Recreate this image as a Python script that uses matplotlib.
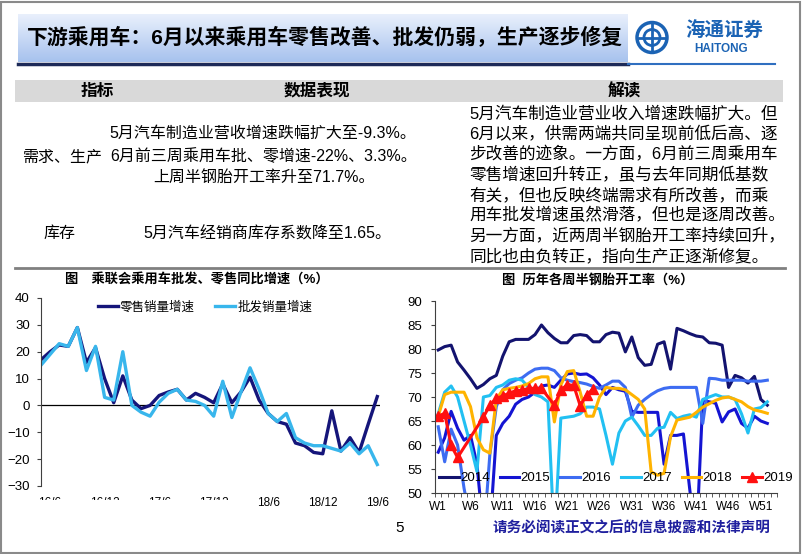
import numpy as np
import matplotlib.pyplot as plt
from matplotlib.patches import Rectangle, Circle
from matplotlib.lines import Line2D
from matplotlib.colors import LinearSegmentedColormap

plt.rcParams['font.family'] = ['Liberation Sans', 'Noto Sans CJK SC']

W, H = 802, 554

# ---- left chart: monthly yoy growth, 16/5 .. 19/6 ----
month_idx = np.arange(-1, 37)
retail = [17, 20, 22.5, 22, 29, 16, 21.5, 10, 1, 11, 2, -1.2, 0, 3.7, 5, 6, 2, 4.5, 3, 1,
          8, 1, 5, 10.5, 2, -3, -6, -7, -14, -15, -17.5, -18, -2, -17, -12, -17.5, -7, 3.3]
wholesale = [15, 19, 23, 22, 29, 13, 22, 3, 2, 20, 0, -2.5, -4, 1.2, 4.5, 6, 2, 1.5, 0, -4,
             9, -4.5, 5, 14, 6, -3, -6, -3, -12, -14, -15, -15, -16, -17, -14, -18, -15, -22]
left_tick_pos = [0, 6, 12, 18, 24, 30, 36]
left_tick_labels = ['16/6', '16/12', '17/6', '17/12', '18/6', '18/12', '19/6']
left_names = ['零售销量增速', '批发销量增速']

# ---- right chart: weekly semi-steel tyre operating rate ----
weeks = np.arange(1, 53)
y2014 = [79.8, 80.5, 80.8, 77.3, 75.6, 73.8, 71.8, 72.6, 73.8, 74.5, 78.5, 81.5, 82.0, 82.0, 82.0,
         83.0, 85.0, 83.4, 82.2, 81.3, 81.3, 82.8, 83.0, 82.8, 81.5, 81.5, 83.0, 83.5, 83.3, 79.4,
         82.5, 78.2, 76.6, 76.8, 81.0, 81.5, 75.8, 84.3, 83.8, 83.2, 82.7, 82.5, 81.3, 81.2, 80.8,
         72.0, 74.5, 74.0, 72.9, 74.3, 69.5, 68.3]
y2015 = [58.5, 61.5, 67.0, 63.5, 61.0, 62.0, 56.0, 42.0, 42.0, 62.0, 64.5, 66.0, 68.5, 69.5, 70.0,
         71.0, 72.3, 72.5, 72.0, 73.5, 74.8, 75.0, 74.7, 74.8, 74.0, 72.5, 70.5, 72.0, 71.5, 71.2,
         67.0, 66.8, 66.8, 66.8, 66.8, 56.0, 62.0, 62.0, 62.3, 50.5, 40.0, 69.3, 69.0, 68.7, 64.8,
         66.9, 67.5, 64.5, 63.5, 66.0, 65.0, 64.5]
y2016 = [63.8, 56.5, 63.3, 60.0, 51.0, 44.0, 42.0, 40.0, 58.0, 68.0, 71.5, 72.8, 73.5, 74.0, 75.0,
         75.8, 76.0, 76.0, 75.5, 74.0, 73.5, 73.2, 73.0, 72.7, 72.2, 71.8, 72.5, 73.3, 73.3, 72.0,
         65.8, 68.3, 69.5, 70.5, 71.3, 71.8, 72.0, 72.0, 72.0, 72.0, 72.0, 64.5, 73.9, 73.8, 73.5,
         73.5, 73.5, 73.5, 73.3, 73.3, 73.3, 73.5]
y2017 = [66.5, 71.0, 72.3, 70.0, 65.0, 60.0, 54.5, 70.0, 70.3, 72.0, 72.5, 73.5, 73.8, 73.5, 72.0,
         70.5, 70.0, 69.0, 40.0, 65.6, 65.8, 66.0, 66.5, 67.9, 67.9, 67.5, 62.0, 56.0, 62.5, 65.0,
         65.8, 64.0, 62.0, 62.0, 63.5, 63.7, 66.8, 65.5, 66.0, 66.3, 65.8, 69.5, 70.0, 70.5, 70.0,
         70.0, 69.5, 66.5, 62.5, 67.5, 67.8, 69.0]
y2018 = [66.0, 70.5, 71.0, 71.0, 71.0, 68.0, 61.5, 59.0, 58.3, 69.5, 71.5, 71.8, 72.0, 72.3, 72.8,
         73.8, 74.2, 74.2, 64.8, 72.5, 75.3, 75.5, 71.0, 66.0, 66.0, 70.0, 72.0, 71.8, 71.8, 71.5,
         70.5, 69.5, 67.5, 54.4, 53.7, 54.1, 61.7, 65.2, 65.5, 65.8, 66.8, 67.9, 68.6, 69.3, 69.8,
         70.0, 69.5, 69.0, 68.0, 67.3, 67.0, 66.6]
weeks2019 = [1, 2, 3, 4, 8, 9, 10, 11, 12, 13, 14, 15, 16, 17, 19, 20, 21, 22, 23, 24, 25]
y2019 = [66.0, 66.6, 59.9, 57.4, 65.8, 68.3, 69.7, 70.2, 70.8, 71.3, 71.4, 71.8, 71.8, 71.8,
         68.3, 71.4, 72.6, 72.4, 68.2, 70.4, 71.7]
week_tick_pos = [1, 6, 11, 16, 21, 26, 31, 36, 41, 46, 51]
week_tick_labels = ['W' + str(w) for w in week_tick_pos]

fig = plt.figure(figsize=(W / 100, H / 100), dpi=100)


def fx(px):
    return px / W


def fy(py):
    return 1 - py / H


def txt(x, y, s, **kw):
    kw.setdefault('ha', 'center')
    kw.setdefault('va', 'center')
    return fig.text(fx(x), fy(y), s, **kw)


# outer frame
fig.add_artist(Rectangle((0.001, 0.002), 0.997, 0.995, transform=fig.transFigure,
                         fill=False, ec='#8a8a8a', lw=1.5))

# title banner with vertical gradient
ban = fig.add_axes([fx(18), fy(62), fx(628) - fx(18), fy(14) - fy(62)])
grad = np.linspace(0, 1, 100).reshape(-1, 1)
cmap = LinearSegmentedColormap.from_list('ban', ['#e9f0fc', '#a7c2ee'])
ban.imshow(grad, aspect='auto', cmap=cmap, extent=[0, 1, 0, 1], origin='upper')
ban.axis('off')
fig.add_artist(Line2D([fx(18), fx(628)], [fy(63.5)] * 2, color='#1d2a58', lw=2.5))
fig.add_artist(Line2D([fx(628), fx(775)], [fy(63.5)] * 2, color='#2f6fc0', lw=1.5))
txt(325, 38, '下游乘用车：6月以来乘用车零售改善、批发仍弱，生产逐步修复',
    fontsize=15, fontweight='bold', color='black')

# logo
logo = fig.add_axes([fx(634), fy(56), fx(670) - fx(634), fy(19) - fy(56)])
logo.set_xlim(0, 36)
logo.set_ylim(0, 37)
logo.axis('off')
logo.add_patch(Circle((18, 18.5), 15, fill=False, ec='#1b63b4', lw=2.5))
logo.add_patch(Circle((18, 18.5), 8, fill=False, ec='#1b63b4', lw=2))
logo.plot([18, 18], [4, 33], color='#1b63b4', lw=2)
logo.plot([5, 31], [18.5, 18.5], color='#1b63b4', lw=2)
txt(724, 31, '海通证券', fontsize=14, color='#1b63b4', fontstyle='italic', fontweight='bold')
txt(721, 48.5, 'HAITONG', fontsize=8.5, color='#1b63b4', fontweight='bold')

# table
fig.add_artist(Rectangle((fx(15), fy(102)), fx(783) - fx(15), fy(80) - fy(102),
                         transform=fig.transFigure, fc='#d9d9d9', ec='none'))
fig.add_artist(Line2D([fx(15), fx(785)], [fy(268)] * 2, color='#808080', lw=2))
txt(97, 91, '指标', fontsize=12, fontweight='bold')
txt(317, 91, '数据表现', fontsize=12, fontweight='bold')
txt(624, 91, '解读', fontsize=12, fontweight='bold')
txt(63, 157, '需求、生产', fontsize=11.5)
txt(59, 233, '库存', fontsize=11.5)
txt(263, 133, '5月汽车制造业营收增速跌幅扩大至-9.3%。', fontsize=11.5)
txt(264, 156, '6月前三周乘用车批、零增速-22%、3.3%。', fontsize=11.5)
txt(264, 177, '上周半钢胎开工率升至71.7%。', fontsize=11.5)
txt(267, 234, '5月汽车经销商库存系数降至1.65。', fontsize=11.5)
col3 = ['5月汽车制造业营业收入增速跌幅扩大。但',
        '6月以来，供需两端共同呈现前低后高、逐',
        '步改善的迹象。一方面，6月前三周乘用车',
        '零售增速回升转正，虽与去年同期低基数',
        '有关，但也反映终端需求有所改善，而乘',
        '用车批发增速虽然滑落，但也是逐周改善。',
        '另一方面，近两周半钢胎开工率持续回升，',
        '同比也由负转正，指向生产正逐渐修复。']
for k, line in enumerate(col3):
    txt(469, 114 + k * 20.3, line, fontsize=12, ha='left')

# ---- left chart ----
ax1 = fig.add_axes([fx(41), fy(486), fx(380) - fx(41), fy(298) - fy(486)])
c_retail, c_whole = '#15157a', '#38b6ec'
ax1.plot(month_idx, retail, color=c_retail, lw=2.4, solid_joinstyle='round')
ax1.plot(month_idx, wholesale, color=c_whole, lw=2.4, solid_joinstyle='round')
ax1.axhline(0, color='black', lw=0.9, zorder=1)
ax1.set_xlim(-1, 36.3)
ax1.set_ylim(-30, 40)
ax1.set_yticks(range(-30, 41, 10))
for s in ['top', 'right', 'bottom']:
    ax1.spines[s].set_visible(False)
ax1.spines['left'].set_color('#404040')
ax1.tick_params(axis='y', direction='out', length=3, pad=5, labelsize=9.5, color='#404040')
ax1.set_xticks(left_tick_pos)
ax1.set_xticklabels(left_tick_labels)
ax1.tick_params(axis='x', length=0, pad=8, labelsize=8.5)
ax1.legend([Line2D([], [], color=c_retail, lw=2.4), Line2D([], [], color=c_whole, lw=2.4)],
           left_names, ncol=2, loc='center', bbox_to_anchor=(fx(205), fy(307)),
           bbox_transform=fig.transFigure, frameon=False, fontsize=9,
           handlelength=1.6, handletextpad=0.2, columnspacing=1.6)
txt(197, 279, '图　乘联会乘用车批发、零售同比增速（%）', fontsize=9.5, fontweight='bold')
# lower half of the first x labels is hidden in the original slide
fig.add_artist(Rectangle((fx(3), fy(513)), fx(240) - fx(3), fy(500) - fy(513),
                         transform=fig.transFigure, fc='white', ec='none', zorder=10))

# ---- right chart ----
ax2 = fig.add_axes([fx(435), fy(493), fx(777) - fx(435), fy(301) - fy(493)])
series = [('2014', y2014, '#13136f'), ('2015', y2015, '#1414d2'), ('2016', y2016, '#3d6cf2'),
          ('2017', y2017, '#22c0f2'), ('2018', y2018, '#ffb300')]
handles = []
for name, vals, col in series:
    ln, = ax2.plot(weeks, vals, color=col, lw=2.2, solid_joinstyle='round')
    handles.append(ln)
ln, = ax2.plot(weeks2019, y2019, color='#ff1010', lw=2.2, marker='^', markersize=6.5)
handles.append(ln)
ax2.set_xlim(0.5, 53.5)
ax2.set_ylim(50, 90)
ax2.set_yticks(range(50, 91, 5))
for s in ['top', 'right']:
    ax2.spines[s].set_visible(False)
ax2.spines['left'].set_color('#404040')
ax2.spines['bottom'].set_color('#404040')
ax2.tick_params(axis='y', direction='out', length=3, pad=6, labelsize=9.5, color='#404040')
ax2.set_xticks(week_tick_pos)
ax2.set_xticklabels(week_tick_labels)
ax2.set_xticks(np.arange(0.5, 54, 1), minor=True)
ax2.tick_params(axis='x', which='major', length=0, pad=6, labelsize=8.5)
ax2.tick_params(axis='x', which='minor', direction='out', length=3, color='#404040')
ax2.legend(handles, ['2014', '2015', '2016', '2017', '2018', '2019'], ncol=6, loc='center',
           bbox_to_anchor=(fx(616), fy(478)), bbox_transform=fig.transFigure, frameon=False,
           fontsize=9.5, handlelength=1.5, handletextpad=0.1, columnspacing=0.75, numpoints=1)
txt(598, 280, '图  历年各周半钢胎开工率（%）', fontsize=9.5, fontweight='bold')

# footer
txt(400, 528, '5', fontsize=11)
txt(631, 528, '请务必阅读正文之后的信息披露和法律声明', fontsize=10.5, color='#1f1f9e',
    fontweight='bold')

fig.savefig('out.png', dpi=100)
